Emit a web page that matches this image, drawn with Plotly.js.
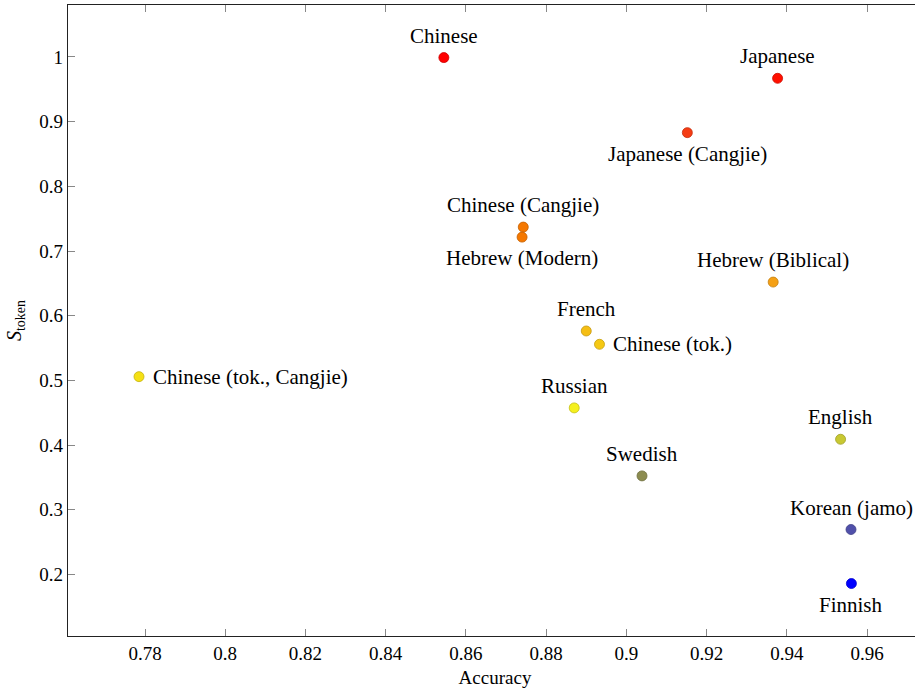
<!DOCTYPE html>
<html>
<head>
<meta charset="utf-8">
<script src="https://cdn.plot.ly/plotly-3.0.1.min.js"></script>
<style>
html,body{margin:0;padding:0;overflow:hidden;background:#fff;width:915px;height:692px;}
#chart{width:922px;height:692px;}
</style>
</head>
<body>
<div id="chart"></div>
<script>
const languages = ["Chinese","Japanese","Japanese (Cangjie)","Chinese (Cangjie)","Hebrew (Modern)","Hebrew (Biblical)","French","Chinese (tok.)","Chinese (tok., Cangjie)","Russian","Swedish","English","Korean (jamo)","Finnish"];
const accuracy = [0.8545,0.9377,0.9152,0.8743,0.8740,0.9366,0.8900,0.8933,0.7785,0.8870,0.9039,0.9534,0.9560,0.9561];
const sToken = [0.999,0.967,0.883,0.737,0.7215,0.652,0.5764,0.5558,0.5058,0.4575,0.3524,0.409,0.2695,0.186];
const fillColors = ["#ff0000","#ff1000","#f53c14","#f57800","#f57800","#f5a014","#f5be14","#f5c814","#f5e014","#f5f01e","#8c8c50","#c8c832","#5050aa","#0000ff"];
const labelPos = ["above","above","below","above","below","above","above","right","right","above","above","above","above","below"];

const font = "'Liberation Serif', 'DejaVu Serif', serif";

function darker(hex){
  const r=parseInt(hex.slice(1,3),16),g=parseInt(hex.slice(3,5),16),b=parseInt(hex.slice(5,7),16);
  const f=0.8;
  return "rgb("+Math.round(r*f)+","+Math.round(g*f)+","+Math.round(b*f)+")";
}

const trace = {
  x: accuracy, y: sToken, type: "scatter", mode: "markers",
  marker: {size: 10, color: fillColors, line: {color: fillColors.map(darker), width: 0.8}},
  hoverinfo: "skip"
};

const annotations = languages.map((name,i)=>{
  const p = labelPos[i];
  const a = {x: accuracy[i], y: sToken[i], xref:"x", yref:"y", text: name, showarrow:false,
    font:{family: font, size: 21, color:"#000"}};
  if(p==="above"){a.xanchor="center"; a.yanchor="bottom"; a.yshift=8;}
  else if(p==="below"){a.xanchor="center"; a.yanchor="top"; a.yshift=-7;}
  else {a.xanchor="left"; a.yanchor="middle"; a.xshift=12;}
  return a;
});

const axisCommon = {
  showline: true, linecolor: "#222", linewidth: 1.2, mirror: "ticks",
  ticks: "inside", ticklen: 7, tickcolor: "#888", tickwidth: 1,
  showgrid: false, zeroline: false,
  tickfont: {family: font, size: 19, color: "#000"}
};

const layout = {
  width: 922, height: 692,
  margin: {l: 68, r: 0, t: 5, b: 56},
  paper_bgcolor: "#fff", plot_bgcolor: "#fff",
  showlegend: false,
  xaxis: Object.assign({}, axisCommon, {
    range: [0.7608, 0.9737],
    tickvals: [0.78,0.8,0.82,0.84,0.86,0.88,0.9,0.92,0.94,0.96],
    ticktext: ["0.78","0.8","0.82","0.84","0.86","0.88","0.9","0.92","0.94","0.96"],
    title: {text: "Accuracy", font: {family: font, size: 19, color: "#000"}, standoff: 7}
  }),
  yaxis: Object.assign({}, axisCommon, {
    range: [0.1049, 1.0803],
    tickvals: [0.2,0.3,0.4,0.5,0.6,0.7,0.8,0.9,1],
    ticktext: ["0.2","0.3","0.4","0.5","0.6","0.7","0.8","0.9","1"],
    title: {text: "<i>S</i><sub>token</sub>", font: {family: font, size: 20, color: "#000"}, standoff: 12}
  }),
  annotations: annotations
};

Plotly.newPlot("chart", [trace], layout, {staticPlot: true, displayModeBar: false});
</script>
</body>
</html>
